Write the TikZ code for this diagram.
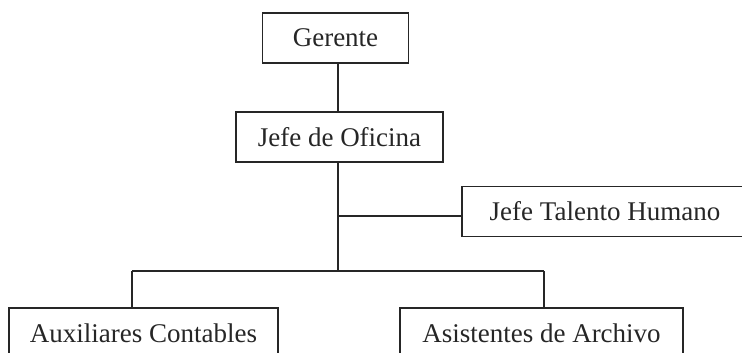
\documentclass[tikz,border=0pt]{standalone}
\usepackage{fontspec}
\setmainfont{Liberation Serif}
\begin{document}
\begin{tikzpicture}[x=1pt,y=-1pt,
  box/.style={draw=black!85, line width=1.6pt, inner sep=0pt, minimum height=50pt,
    font=\fontsize{27}{30}\selectfont, text=black!85},
  conn/.style={draw=black!85, line width=1.6pt}]
\useasboundingbox (0,0) rectangle (742,353);
\node[box, minimum width=146pt] (ger) at (335.5,38) {Gerente};
\node[box, minimum width=207pt] (jof) at (339.5,137) {Jefe de Oficina};
\node[box, minimum width=286pt] (jth) at (605,211.5) {Jefe Talento Humano};
\node[box, minimum width=269pt] (aux) at (143.5,333) {Auxiliares Contables};
\node[box, minimum width=283pt] (asi) at (541.5,333) {Asistentes de Archivo};
\coordinate (b1) at (338,216);
\coordinate (b2) at (338,271);
\coordinate (l) at (132,271);
\coordinate (r) at (544,271);
\draw[conn] (ger.south -| b1) -- (jof.north -| b1);
\draw[conn] (jof.south -| b1) -- (b2);
\draw[conn] (b1) -- (b1 -| jth.west);
\draw[conn] (l) -- (r);
\draw[conn] (l) -- (aux.north -| l);
\draw[conn] (r) -- (asi.north -| r);
\end{tikzpicture}
\end{document}
